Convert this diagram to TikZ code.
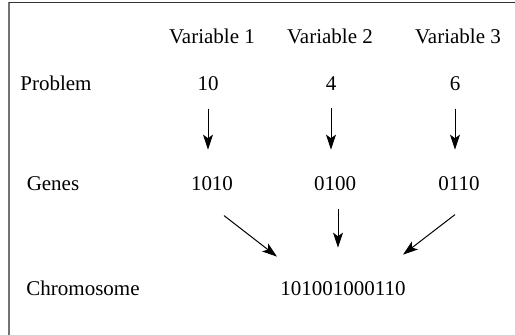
\documentclass[tikz,border=0pt]{standalone}
\usepackage{fontspec}
\setmainfont{Liberation Serif}
\usepackage{tikz}
\usetikzlibrary{arrows.meta,positioning}

\tikzset{
  lbl/.style={inner sep=0pt, anchor=base, font=\fontsize{10.5}{12}\selectfont},
  maparrow/.style={-{Stealth[length=7.5pt,width=5pt,inset=1.8pt]}, line width=0.5pt},
}

\begin{document}
\begin{tikzpicture}[x=0.5pt,y=-0.5pt]
    \useasboundingbox (0,0) rectangle (515,335);

    % frame (only top and left edges show)
    \draw[black!55, line width=1pt] (8.5,2.5)--(8.5,335);
    \draw[black!80, line width=0.7pt] (8.5,2.5)--(515,2.5);

    % column headings
    \node[lbl] (v1) at (212,44) {Variable 1};
    \node[lbl] (v2) at (330,44) {Variable 2};
    \node[lbl] (v3) at (458,44) {Variable 3};

    % row labels
    \node[lbl] (prob) at (56,91) {Problem};
    \node[lbl] (genes) at (53,191) {Genes};
    \node[lbl] (chromlbl) at (83,296) {Chromosome};

    % values
    \node[lbl] (p1) at (208,91) {10};
    \node[lbl] (p2) at (331,91) {4};
    \node[lbl] (p3) at (455,91) {6};
    \node[lbl] (g1) at (212,191) {1010};
    \node[lbl] (g2) at (335,191) {0100};
    \node[lbl] (g3) at (459,191) {0110};
    \node[lbl] (chrom) at (343,296) {101001000110};

    % encoding arrows
    \draw[maparrow, shorten <=8.5pt, shorten >=13.5pt] (p1.south) -- (p1.south |- g1.north);
    \draw[maparrow, shorten <=8.5pt, shorten >=13.5pt] (p2.south) -- (p2.south |- g2.north);
    \draw[maparrow, shorten <=8.5pt, shorten >=13.5pt] (p3.south) -- (p3.south |- g3.north);

    % concatenation
    \draw[maparrow] ([xshift=6pt,yshift=-12pt]g1.south) -- ([xshift=-33pt,yshift=12.5pt]chrom.north);
    \draw[maparrow, shorten <=8.5pt, shorten >=17pt] ([xshift=1.5pt]g2.south) -- ([xshift=1.5pt]g2.south |- chrom.north);
    \draw[maparrow] ([xshift=-2pt,yshift=-11.5pt]g3.south) -- ([xshift=30pt,yshift=13.5pt]chrom.north);
\end{tikzpicture}
\end{document}
